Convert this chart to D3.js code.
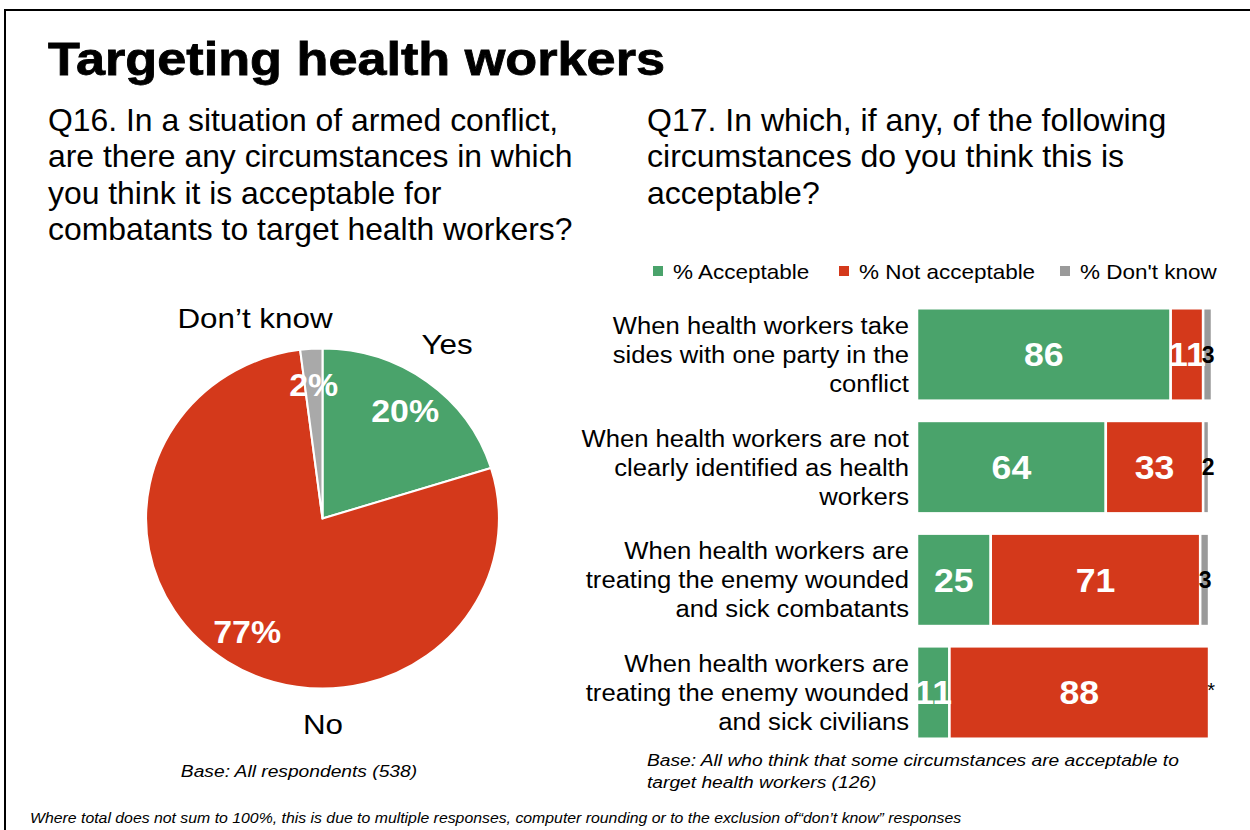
<!DOCTYPE html>
<html>
<head>
<meta charset="utf-8">
<script src="https://cdn.jsdelivr.net/npm/d3@7"></script>
<style>
  html, body { margin: 0; padding: 0; background: #fff; }
  svg { display: block; font-family: "Liberation Sans", Arial, sans-serif; }
</style>
</head>
<body>
<svg id="chart" width="1250" height="830"></svg>
<script>
// Q16 pie
const pieLabels = ["Yes", "No", "Don’t know"];
const pieValues = [20, 77, 2];

// Q17 stacked bars
const barCategories = [
  ["When health workers take", "sides with one party in the", "conflict"],
  ["When health workers are not", "clearly identified as health", "workers"],
  ["When health workers are", "treating the enemy wounded", "and sick combatants"],
  ["When health workers are", "treating the enemy wounded", "and sick civilians"]
];
const seriesNames = ["% Acceptable", "% Not acceptable", "% Don't know"];
const acceptable = [86, 64, 25, 11];
const notAcceptable = [11, 33, 71, 88];
const dontKnow = [3, 2, 3, 0];
const dontKnowText = ["3", "2", "3", "*"];

const green = "#4aa36b", red = "#d4391b", greyPie = "#a9a9a9", greyBar = "#9a9a9a";

const svg = d3.select("#chart");

// widen a text run by a factor, keeping its anchor
function stretch(sel, f) {
  sel.each(function () {
    const w = this.getComputedTextLength();
    this.setAttribute("textLength", w * f);
    this.setAttribute("lengthAdjust", "spacingAndGlyphs");
  });
  return sel;
}

// frame
svg.append("path")
  .attr("d", "M5,830 L5,10 L1250,10")
  .attr("fill", "none").attr("stroke", "#000").attr("stroke-width", 2);

// title
svg.append("text")
  .attr("x", 48).attr("y", 75)
  .attr("font-size", 46).attr("font-weight", "bold")
  .attr("stroke", "#000").attr("stroke-width", 0.8)
  .attr("textLength", 617).attr("lengthAdjust", "spacingAndGlyphs")
  .text("Targeting health workers");

const q16 = ["Q16. In a situation of armed conflict,", "are there any circumstances in which",
  "you think it is acceptable for", "combatants to target health workers?"];
const q17 = ["Q17. In which, if any, of the following", "circumstances do you think this is", "acceptable?"];

function block(lines, x, y0, dy, size, f) {
  const t = svg.append("g").selectAll("text").data(lines).join("text")
    .attr("x", x).attr("y", (d, i) => y0 + i * dy)
    .attr("font-size", size).attr("fill", "#000")
    .text(d => d);
  stretch(t, f);
}
block(q16, 48, 131, 36.4, 30.5, 1.045);
block(q17, 647, 131, 36.4, 30.5, 1.05);

// ---- pie (drawn slightly wide, as an ellipse) ----
const cx = 322.5, cy = 518.5, R = 170, sx = 1.038;
const pie = d3.pie().sort(null).value(d => d.v);
const arc = d3.arc().innerRadius(0).outerRadius(R);
const pieData = pie(pieLabels.map((l, i) => ({ l, v: pieValues[i] })));
const pieColors = [green, red, greyPie];
svg.append("g").attr("transform", `translate(${cx},${cy}) scale(${sx},1)`)
  .selectAll("path").data(pieData).join("path")
  .attr("d", arc)
  .attr("fill", (d, i) => pieColors[i])
  .attr("stroke", "#fff").attr("stroke-width", 2).attr("stroke-linejoin", "round");

const pg = svg.append("g").attr("transform", `translate(${cx},${cy})`);

// percent labels inside slices
const labelArc = d3.arc().innerRadius(R * 0.79).outerRadius(R * 0.79);
stretch(pg.selectAll("text.pct").data(pieData).join("text")
  .attr("class", "pct")
  .attr("transform", d => { const c = labelArc.centroid(d); return `translate(${c[0] * sx},${c[1]})`; })
  .attr("text-anchor", "middle").attr("dy", "0.36em")
  .attr("font-size", 32).attr("font-weight", "bold").attr("fill", "#fff")
  .text(d => d.data.v + "%"), 1.06);

// category labels placed around the pie
const catOffset = [[124.5, -175], [0.5, 205.5], [-67.5, -201]];
stretch(pg.selectAll("text.cat").data(pieData).join("text")
  .attr("class", "cat")
  .attr("transform", (d, i) => `translate(${catOffset[i]})`)
  .attr("text-anchor", "middle").attr("dy", "0.36em")
  .attr("font-size", 28).attr("fill", "#000")
  .text(d => d.data.l), 1.12);

// ---- stacked bars ----
const x = d3.scaleLinear().domain([0, 100]).range([917, 1212]);
const y = d3.scaleBand().domain(d3.range(barCategories.length)).range([297, 750]).paddingInner(0.18).paddingOuter(0.1);

const rows = barCategories.map((c, i) => ({ i, vals: [acceptable[i], notAcceptable[i], dontKnow[i]] }));
const stack = d3.stack().keys([0, 1, 2]).value((d, k) => d.vals[k]);
const layers = stack(rows);
const barColors = [green, red, greyBar];

const bg = svg.append("g");
layers.forEach((layer, k) => {
  bg.append("g").selectAll("rect").data(layer).join("rect")
    .attr("x", d => x(d[0]))
    .attr("y", d => y(d.data.i))
    .attr("width", d => Math.max(0, x(d[1]) - x(d[0])))
    .attr("height", y.bandwidth())
    .attr("fill", barColors[k])
    .attr("stroke", "#fff").attr("stroke-width", 2.5);
});

// value labels
layers.forEach((layer, k) => {
  const t = bg.append("g").selectAll("text").data(layer).join("text")
    .attr("x", d => k === 2 ? x(d[0]) + (d.data.vals[2] === 0 ? 2 : 5) : (x(d[0]) + x(d[1])) / 2)
    .attr("y", d => y(d.data.i) + y.bandwidth() / 2)
    .attr("dy", d => (k === 2 && d.data.vals[2] === 0) ? "0.2em" : "0.36em")
    .attr("text-anchor", "middle")
    .attr("font-size", d => (k === 2 && d.data.vals[2] === 0) ? 20 : (k === 2 ? 23 : 33))
    .attr("font-weight", d => (k === 2 && d.data.vals[2] === 0) ? "normal" : "bold")
    .attr("fill", k === 2 ? "#000" : "#fff")
    .text(d => k === 2 ? dontKnowText[d.data.i] : d.data.vals[k]);
  if (k < 2) stretch(t, 1.08);
});

// category labels
const lg = svg.append("g");
barCategories.forEach((lines, i) => {
  const mid = y(i) + y.bandwidth() / 2;
  stretch(lg.append("g").selectAll("text").data(lines).join("text")
    .attr("x", 909)
    .attr("y", (d, j) => mid + (j - 1) * 29)
    .attr("dy", "0.36em")
    .attr("text-anchor", "end")
    .attr("font-size", 23.5).attr("fill", "#000")
    .text(d => d), 1.09);
});

// legend
const legX = [653, 839, 1060];
const leg = svg.append("g");
seriesNames.forEach((n, k) => {
  leg.append("rect").attr("x", legX[k]).attr("y", 266).attr("width", 10).attr("height", 10)
    .attr("fill", barColors[k]);
  stretch(leg.append("text").attr("x", legX[k] + 20).attr("y", 271).attr("dy", "0.36em")
    .attr("font-size", 21).attr("fill", "#000").text(n), 1.07);
});

// base notes
stretch(svg.append("text").attr("x", 299).attr("y", 777).attr("text-anchor", "middle")
  .attr("font-size", 16).attr("font-style", "italic")
  .text("Base: All respondents (538)"), 1.2);
stretch(svg.append("g").selectAll("text")
  .data(["Base: All who think that some circumstances are acceptable to", "target health workers (126)"])
  .join("text")
  .attr("x", 647).attr("y", (d, i) => 766 + i * 22)
  .attr("font-size", 16).attr("font-style", "italic")
  .text(d => d), 1.2);
stretch(svg.append("text").attr("x", 30).attr("y", 823)
  .attr("font-size", 14).attr("font-style", "italic")
  .text("Where total does not sum to 100%, this is due to multiple responses, computer rounding or to the exclusion of“don’t know” responses"), 1.13);
</script>
</body>
</html>
